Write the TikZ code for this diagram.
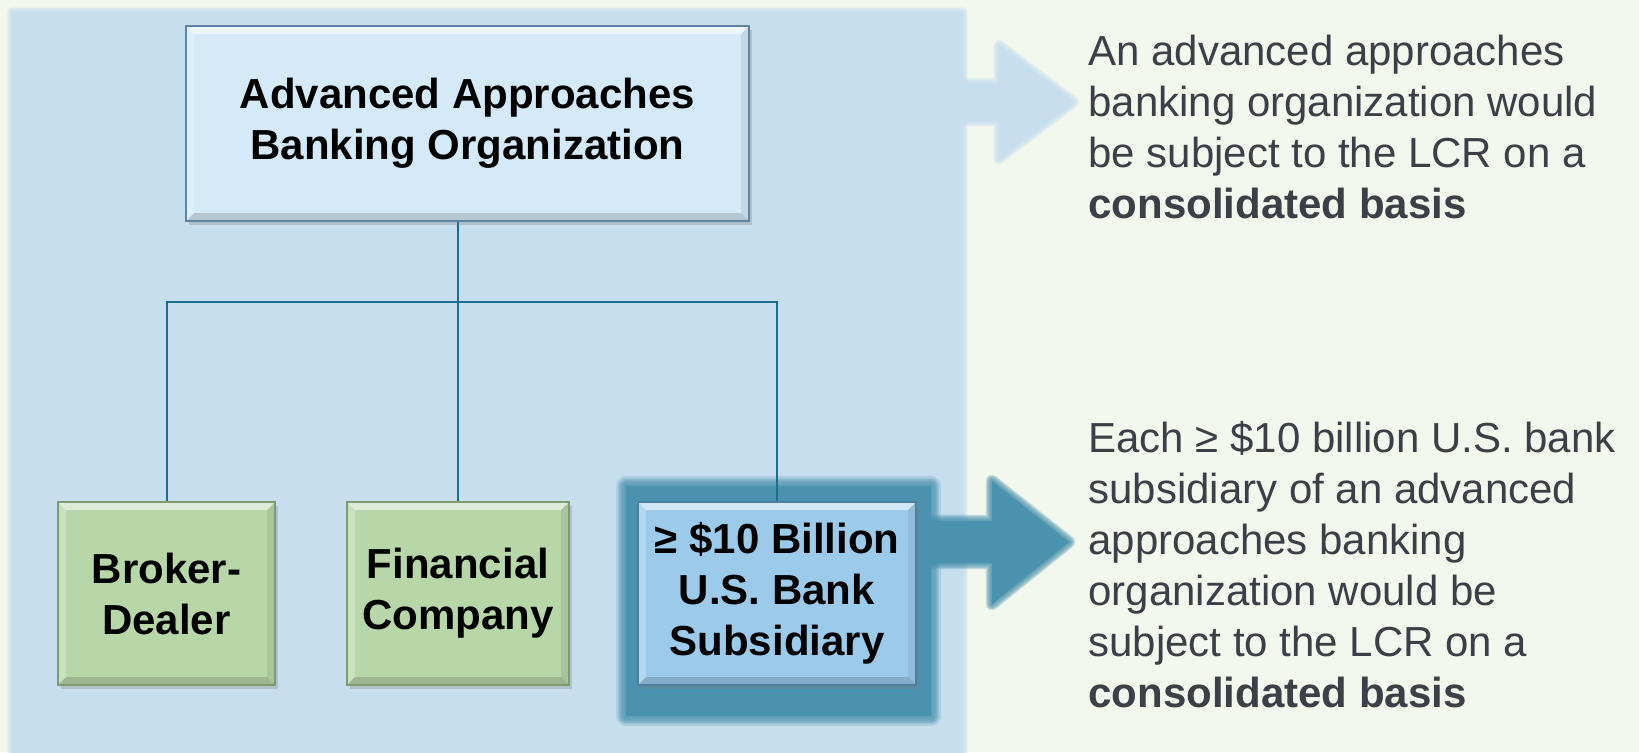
\documentclass[tikz,border=0pt]{standalone}
\usepackage{fontspec}
\setmainfont{Liberation Sans}
\usepackage{tikz}
\usetikzlibrary{calc,shadows,backgrounds}
\frenchspacing
\definecolor{pagebg}{HTML}{F3F8EE}
\definecolor{panelblue}{HTML}{C6DEEE}
\definecolor{topfill}{HTML}{D4EAF9}
\definecolor{topedge}{HTML}{5E84A2}
\definecolor{subgreen}{HTML}{B8D7A9}
\definecolor{greenedge}{HTML}{7C9B70}
\definecolor{bankfill}{HTML}{9CCAEB}
\definecolor{bankedge}{HTML}{4F7F9F}
\definecolor{glowblue}{HTML}{4A92AD}
\definecolor{linkblue}{HTML}{1B6E8E}
\definecolor{notegray}{HTML}{3B4047}
\def\toparrow{(940,83) -- (999,83) -- (999,45) -- (1074,102) -- (999,159) -- (999,121) -- (940,121) -- cycle}
\def\bankarrow{(900,521) -- (992,521) -- (992,481) -- (1069,542) -- (992,604) -- (992,563) -- (900,563) -- cycle}
\newcommand{\softfill}[3][1]{%
  \foreach \w in {1,...,8}{\draw[#2, line width=#1*\w pt, opacity=.2, line join=round] #3;}
  \fill[#2] #3;}
\tikzset{
  bevel/.style={path picture={
    \fill[white,opacity=.55] (path picture bounding box.north west) -- (path picture bounding box.north east) -- ++(-4pt,-4pt) -- ([shift={(4pt,-4pt)}]path picture bounding box.north west) -- cycle;
    \fill[white,opacity=.25] (path picture bounding box.north west) -- ([shift={(4pt,-4pt)}]path picture bounding box.north west) -- ([shift={(4pt,4pt)}]path picture bounding box.south west) -- (path picture bounding box.south west) -- cycle;
    \fill[black,opacity=.15] (path picture bounding box.south west) -- (path picture bounding box.south east) -- ++(-4pt,4pt) -- ([shift={(4pt,4pt)}]path picture bounding box.south west) -- cycle;
    \fill[black,opacity=.08] (path picture bounding box.north east) -- ([shift={(-4pt,-4pt)}]path picture bounding box.north east) -- ([shift={(-4pt,4pt)}]path picture bounding box.south east) -- (path picture bounding box.south east) -- cycle;
  }},
  orgbox/.style={rectangle, line width=1pt, align=center, inner sep=0pt, bevel,
    font=\bfseries\fontsize{21}{25.5}\selectfont,
    drop shadow={shadow xshift=1.5pt, shadow yshift=-2pt, opacity=.3}},
  topbox/.style={orgbox, fill=topfill, draw=topedge, minimum width=281.5pt, minimum height=97.5pt},
  greenbox/.style={orgbox, fill=subgreen, draw=greenedge, minimum height=91.5pt},
  bankbox/.style={orgbox, fill=bankfill, draw=bankedge, minimum width=139pt, minimum height=91.5pt},
  link/.style={draw=linkblue, line width=1pt},
  note/.style={anchor=north west, align=left, inner sep=0pt, text=notegray,
    font=\fontsize{21}{25.5}\selectfont}
}
\begin{document}
\begin{tikzpicture}[x=0.5pt,y=-0.5pt]
  \useasboundingbox (0,0) rectangle (1639,752);
  \node[topbox] (top) at (467.5,123.5) {Advanced Approaches\\Banking Organization};
  \node[greenbox, minimum width=108.5pt] (broker) at (166.5,593.5) {Broker-\\Dealer};
  \node[greenbox, minimum width=111pt] (fin) at (458,593.5) {Financial\\Company};
  \node[bankbox] (bank) at (777,593.5) {≥ \$10 Billion\\U.S. Bank\\Subsidiary};
  \coordinate (bus) at (458,302);
  \draw[link] (fin.north |- top.south) -- (fin.north);
  \draw[link] (broker.north) |- (bus) -| (bank.north);
  \node[note] (consol) at (1088,35) {An advanced approaches\\banking organization would\\be subject to the LCR on a\\{\bfseries consolidated basis}};
  \node[note] (subsid) at (1088,421) {Each ≥ \$10 billion U.S. bank\\subsidiary of an advanced\\approaches banking\\organization would be\\subject to the LCR on a\\{\bfseries consolidated basis}};
  \begin{pgfonlayer}{background}
    \fill[pagebg] (0,0) rectangle (1639,752);
    \softfill[.6]{panelblue}{(12,12) rectangle (963,780)}
    \softfill[.7]{panelblue}{\toparrow}
    \softfill[1.2]{glowblue}{([shift={(-11,-15)}]bank.north west) rectangle ([shift={(14,30)}]bank.south east)}
    \softfill[.8]{glowblue}{\bankarrow}
  \end{pgfonlayer}
\end{tikzpicture}
\end{document}
